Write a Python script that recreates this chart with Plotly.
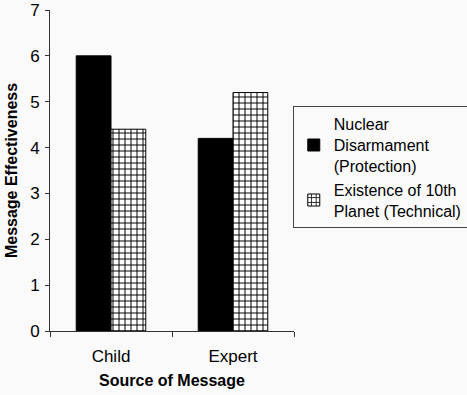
import plotly.graph_objects as go

categories = ["Child", "Expert"]
series_names = ["Nuclear<br>Disarmament<br>(Protection)", "Existence of 10th<br>Planet (Technical)"]
nuclear = [6.0, 4.2]
planet = [4.4, 5.2]
y_ticks = [0, 1, 2, 3, 4, 5, 6, 7]

FONT = "Liberation Sans, Arial, sans-serif"

fig = go.Figure()
fig.add_trace(go.Bar(
    x=categories, y=nuclear, name=series_names[0],
    marker=dict(color="black", line=dict(color="black", width=1)),
))
fig.add_trace(go.Bar(
    x=categories, y=planet, name=series_names[1],
    marker=dict(color="white", line=dict(color="black", width=1),
                pattern=dict(shape="+", fgcolor="black", bgcolor="white",
                             size=6, solidity=0.3, fillmode="replace")),
))

fig.update_layout(
    width=467, height=395,
    margin=dict(l=50, r=173, t=10, b=64, autoexpand=False),
    paper_bgcolor="#fafafa", plot_bgcolor="#fafafa",
    barmode="group", bargap=0.43, bargroupgap=0,
    font=dict(family=FONT, size=16, color="black"),
    showlegend=True,
    legend=dict(x=0.995, y=0.70, xanchor="left", yanchor="top",
                bordercolor="#444", borderwidth=1, bgcolor="#fafafa",
                font=dict(size=16), tracegroupgap=2, itemwidth=30),
    xaxis=dict(showline=True, linecolor="#333", linewidth=1, automargin=False,
               ticks="outside", tickson="boundaries", ticklen=5, tickcolor="#333",
               ticklabelstandoff=10,
               title=dict(text="<b>Source of Message</b>", font=dict(size=16), standoff=9),
               tickfont=dict(size=17)),
    yaxis=dict(range=[0, 7], tickvals=y_ticks, showline=True, linecolor="#333", linewidth=1,
               automargin=False, ticklabeloverflow="allow", ticklabelstandoff=2,
               ticks="outside", ticklen=4, tickcolor="#333", showgrid=False, zeroline=False,
               title=dict(text="<b>Message Effectiveness</b>", font=dict(size=16), standoff=8),
               tickfont=dict(size=17)),
)

fig.write_html("out.html", config={"displayModeBar": False},
               post_script="document.body.style.margin='0';document.body.style.overflow='hidden';")
